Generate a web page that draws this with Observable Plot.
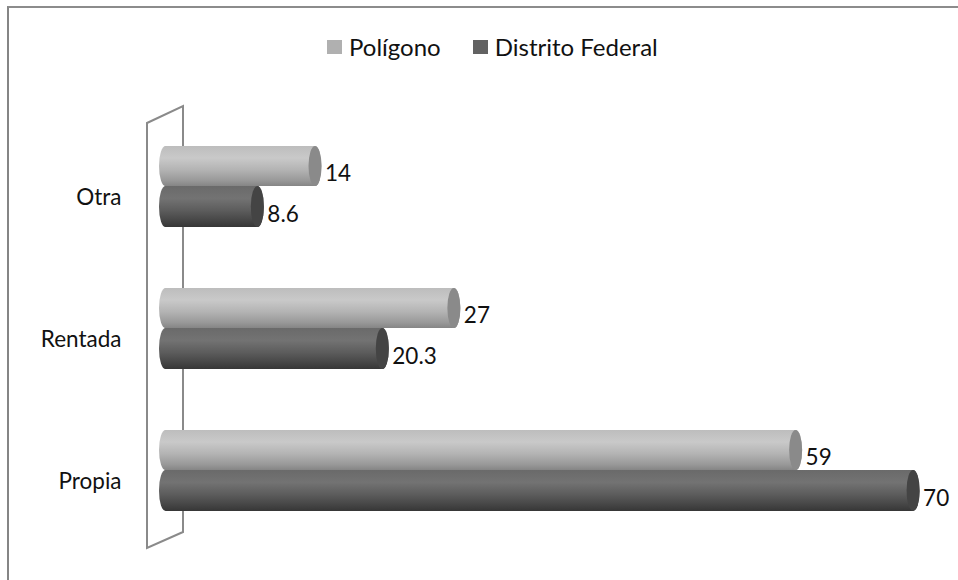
<!DOCTYPE html>
<html>
<head>
<meta charset="utf-8">
<script src="https://cdn.jsdelivr.net/npm/d3@7"></script>
<script src="https://cdn.jsdelivr.net/npm/@observablehq/plot@0.6"></script>
<style>
  body { margin: 0; background: #fff; font-family: Lato, "Open Sans", sans-serif; }
  #wrap { position: relative; width: 958px; height: 580px; overflow: hidden; }
  #frame { position: absolute; left: 7px; top: 6px; width: 1200px; height: 1200px;
           border-left: 2px solid #858585; border-top: 2px solid #8c8c8c; box-sizing: border-box; }
  #legend { position: absolute; left: 327px; top: 32px; display: flex; align-items: center;
            font-size: 24px; color: #111; font-family: Lato, sans-serif; }
  #legend .sw { width: 15px; height: 14px; margin-right: 7px; }
  #legend .item { display: flex; align-items: center; margin-right: 32px; }
  #chart { position: absolute; left: 0; top: 0; }
</style>
</head>
<body>
<div id="wrap">
  <div id="frame"></div>
  <div id="chart"></div>
  <div id="legend"></div>
</div>
<script>
const categories = ["Otra", "Rentada", "Propia"];
const series = ["Polígono", "Distrito Federal"];
const poligono = [14, 27, 59];
const distrito = [8.6, 20.3, 70];
const swatch = ["#b0b0b0", "#626262"];

const rowsP = categories.map((c, i) => ({cat: c, serie: series[0], value: poligono[i]}));
const rowsD = categories.map((c, i) => ({cat: c, serie: series[1], value: distrito[i]}));

const R = 6.5;
const common = {y: "cat", insetLeft: -R, insetRight: -R, rx: R, ry: 20};

const plot = Plot.plot({
  width: 958,
  height: 580,
  marginLeft: 121,
  marginRight: 0,
  marginTop: 0,
  marginBottom: 0,
  x: {domain: [0, 70], range: [165.5, 165.5 + 70 * 10.68], axis: null},
  y: {domain: categories, range: [115, 541], padding: 0, axis: null},
  style: {background: "transparent", fontFamily: "Lato, sans-serif"},
  marks: [
    // Polígono cylinders
    Plot.barX(rowsP, {...common, x: "value", insetTop: 31, insetBottom: 71, fill: "url(#gLight)"}),
    Plot.barX(rowsP, {...common, x1: "value", x2: "value", insetTop: 31, insetBottom: 71, fill: "#8a8a8a"}),
    // Distrito Federal cylinders
    Plot.barX(rowsD, {...common, x: "value", insetTop: 71, insetBottom: 30, fill: "url(#gDark)"}),
    Plot.barX(rowsD, {...common, x1: "value", x2: "value", insetTop: 71, insetBottom: 30, fill: "#444444"}),
    // value labels
    Plot.text(rowsP, {x: "value", y: "cat", text: d => String(d.value), dx: R + 3, dy: -13,
      textAnchor: "start", fontSize: 22.5, fill: "#111"}),
    Plot.text(rowsD, {x: "value", y: "cat", text: d => String(d.value), dx: R + 3, dy: 28,
      textAnchor: "start", fontSize: 22.5, fill: "#111"}),
    // category labels
    Plot.text(categories, {y: d => d, text: d => d, frameAnchor: "left", textAnchor: "end",
      dy: 11, fontSize: 22.5, fill: "#111"})
  ]
});

// gradients for cylinder bodies
const svg = d3.select(plot);
const defs = svg.insert("defs", ":first-child");
function grad(id, stops) {
  const g = defs.append("linearGradient").attr("id", id)
    .attr("x1", 0).attr("y1", 0).attr("x2", 0).attr("y2", 1);
  stops.forEach(([o, c]) => g.append("stop").attr("offset", o).attr("stop-color", c));
}
grad("gLight", [[0, "#bdbdbd"], [0.3, "#c9c9c9"], [0.6, "#b3b3b3"], [0.85, "#9a9a9a"], [1, "#858585"]]);
grad("gDark", [[0, "#6a6a6a"], [0.3, "#737373"], [0.6, "#5c5c5c"], [0.85, "#454545"], [1, "#363636"]]);

// back wall (category axis plane), placed relative to the scales
const sx = plot.scale("x");
const sy = plot.scale("y");
const x0 = sx.apply(0);
const yTop = sy.range[0], yBot = sy.range[1];
const wall = [[x0 - 18.5, yTop + 8], [x0 + 17.5, yTop - 9], [x0 + 17.5, yBot - 9], [x0 - 18.5, yBot + 7]];
svg.insert("path", "defs + *")
  .attr("d", d3.line()(wall) + "Z")
  .attr("fill", "none").attr("stroke", "#8a8a8a").attr("stroke-width", 2);

document.getElementById("chart").appendChild(plot);

// legend
const leg = d3.select("#legend");
series.forEach((s, i) => {
  const it = leg.append("div").attr("class", "item");
  it.append("div").attr("class", "sw").style("background", swatch[i]);
  it.append("span").text(s);
});
</script>
</body>
</html>
